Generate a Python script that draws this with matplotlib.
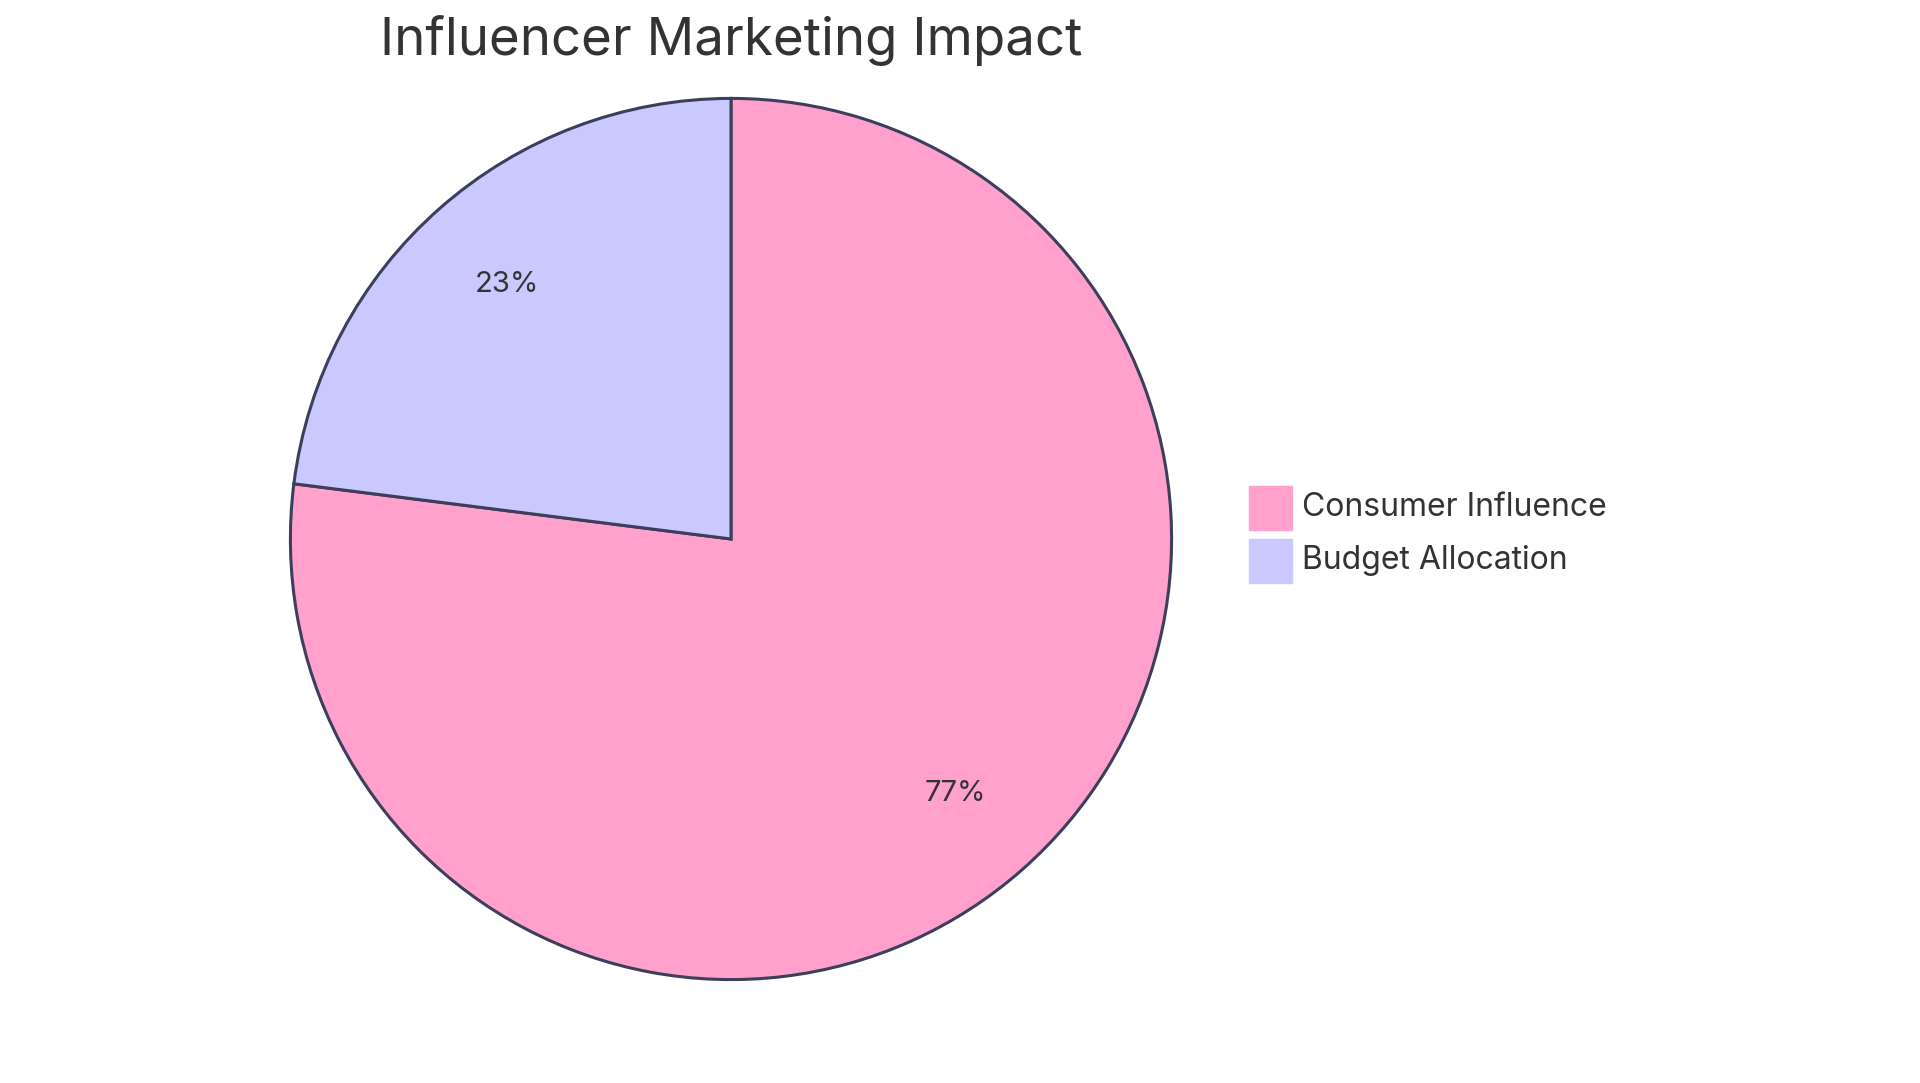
import matplotlib
matplotlib.use("Agg")
import matplotlib.pyplot as plt
from matplotlib.patches import Rectangle

labels = ["Consumer Influence", "Budget Allocation"]
values = [77, 23]
colors = ["#ffa1cc", "#c9c9ff"]
title = "Influencer Marketing Impact"

plt.rcParams['font.family'] = ['Inter', 'DejaVu Sans']
W, H = 1920, 1083
fig = plt.figure(figsize=(W/100, H/100), dpi=100)
cx, cy, r = 731, 539, 445
ax = fig.add_axes([(cx-r)/W, (H-cy-r)/H, 2*r/W, 2*r/H])
ax.pie(values, colors=colors, startangle=90, counterclock=False,
       autopct=lambda p: f"{p:.0f}%", pctdistance=0.77,
       wedgeprops=dict(edgecolor="#3b3f5c", linewidth=2.2),
       textprops=dict(fontsize=21, color="#333333"))
ax.set_xlim(-1.01, 1.01); ax.set_ylim(-1.01, 1.01)
ax.set_aspect('equal'); ax.axis('off')

fig.text(cx/W, 1-40/H, title, ha='center', va='center', fontsize=38, color="#333333")
for i, (lab, c) in enumerate(zip(labels, colors)):
    y = 508 + i*53
    fig.patches.append(Rectangle((1249/W, 1-(y+22)/H), 43/W, 44/H, transform=fig.transFigure,
                                 facecolor=c, edgecolor=c))
    fig.text(1302/W, 1-y/H, lab, ha='left', va='center', fontsize=23, color="#333333")
fig.savefig("out.png", dpi=100, facecolor="white")
